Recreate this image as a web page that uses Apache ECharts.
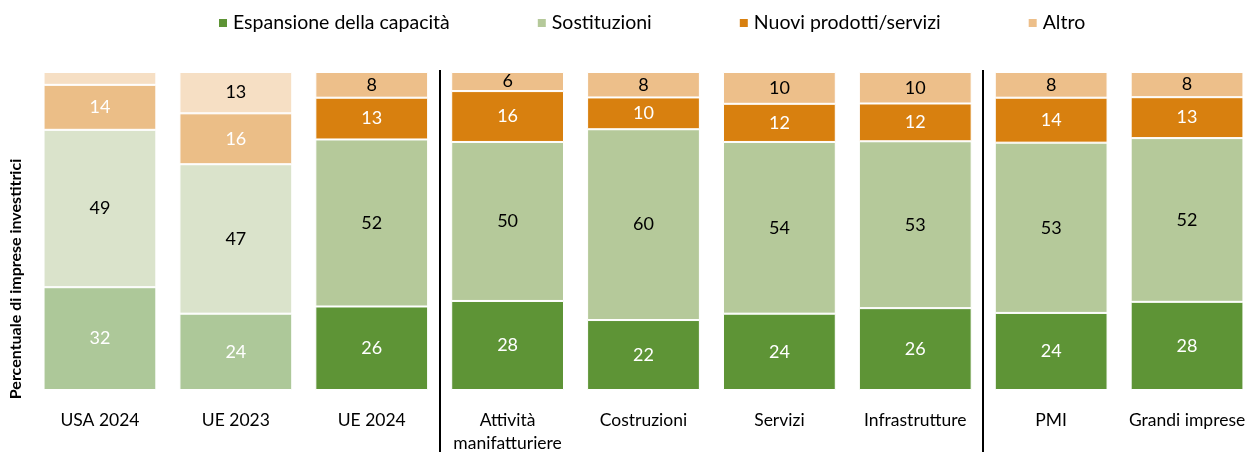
<!DOCTYPE html>
<html>
<head>
<meta charset="utf-8">
<script src="https://cdn.jsdelivr.net/npm/echarts@6/dist/echarts.min.js"></script>
<style>
    html, body { margin: 0; padding: 0; background: #fff; }
    #chart { width: 1255px; height: 452px; }
</style>
</head>
<body>
<div id="chart"></div>
<script>
var categories = ['USA 2024', 'UE 2023', 'UE 2024', 'Attività\nmanifatturiere', 'Costruzioni', 'Servizi', 'Infrastrutture', 'PMI', 'Grandi imprese'];
var seriesNames = ['Espansione della capacità', 'Sostituzioni', 'Nuovi prodotti/servizi', 'Altro'];
var espansione = [32, 24, 26, 28, 22, 24, 26, 24, 28];
var sostituzioni = [49, 47, 52, 50, 60, 54, 53, 53, 52];
var nuovi = [14, 16, 13, 16, 10, 12, 12, 14, 13];
var altro = [4, 13, 8, 6, 8, 10, 10, 8, 8];
// categorie dopo le quali c'è una linea verticale
var separatori = ['UE 2024', 'Infrastrutture'];

var font = 'Lato';
var colori = ['#5E9436', '#B5C99A', '#D8800F', '#EDBF8A'];
var coloriChiari = ['#ADC899', '#DAE3CB', '#EBBE87', '#F6DFC4'];
var coloriTesto = ['#fff', '#000', '#fff', '#000'];
var nChiari = 2; // USA 2024 e UE 2023 in colori chiari

var dati = [espansione, sostituzioni, nuovi, altro];

// 100% in pila come in Excel
var totali = categories.map(function (c, i) {
    return espansione[i] + sostituzioni[i] + nuovi[i] + altro[i];
});

var series = dati.map(function (arr, s) {
    return {
        name: seriesNames[s],
        type: 'bar',
        stack: 'tot',
        barCategoryGap: '17%',
        itemStyle: { color: colori[s], borderColor: '#fff', borderWidth: 1 },
        label: {
            show: true,
            position: 'inside',
            fontFamily: font,
            fontSize: 18,
            color: coloriTesto[s],
            formatter: function (p) {
                var v = arr[p.dataIndex];
                return v < 5 ? '' : String(v);
            }
        },
        data: arr.map(function (v, i) {
            var item = { value: v / totali[i] * 100 };
            if (i < nChiari) {
                item.itemStyle = { color: coloriChiari[s] };
            }
            return item;
        })
    };
});

var chart = echarts.init(document.getElementById('chart'));
var option = {
    animation: false,
    textStyle: { fontFamily: font },
    legend: {
        data: seriesNames.map(function (n, i) {
            return { name: n, itemStyle: { color: colori[i] } };
        }),
        left: 212,
        top: 8,
        icon: 'rect',
        itemWidth: 10,
        itemHeight: 10,
        itemGap: 86,
        textStyle: { fontFamily: font, fontSize: 19.5, color: '#000' }
    },
    grid: {
        left: 32,
        right: 0,
        top: 72,
        bottom: 62,
        outerBoundsMode: 'none',
        containLabel: false
    },
    xAxis: {
        type: 'category',
        data: categories,
        axisLine: { show: false },
        axisTick: { show: false },
        axisLabel: {
            interval: 0,
            margin: 19,
            fontFamily: font,
            fontSize: 17.5,
            lineHeight: 23,
            color: '#000'
        }
    },
    yAxis: {
        type: 'value',
        min: 0,
        max: 100,
        show: false
    },
    series: series
};
chart.setOption(option);

// linee verticali tra i gruppi
var linee = separatori.map(function (c) {
    var i = categories.indexOf(c);
    var x1 = chart.convertToPixel({ xAxisIndex: 0 }, categories[i]);
    var x2 = chart.convertToPixel({ xAxisIndex: 0 }, categories[i + 1]);
    var x = Math.round((x1 + x2) / 2);
    return {
        type: 'line',
        shape: { x1: x, y1: 70, x2: x, y2: 452 },
        style: { stroke: '#000', lineWidth: 2 }
    };
});

linee.push({
    type: 'text',
    x: 16,
    y: 279,
    rotation: Math.PI / 2,
    style: {
        text: 'Percentuale di imprese investitrici',
        fontFamily: font,
        fontSize: 16,
        fontWeight: 'bold',
        fill: '#000',
        align: 'center',
        verticalAlign: 'middle'
    }
});

chart.setOption({ graphic: linee });
</script>
</body>
</html>
